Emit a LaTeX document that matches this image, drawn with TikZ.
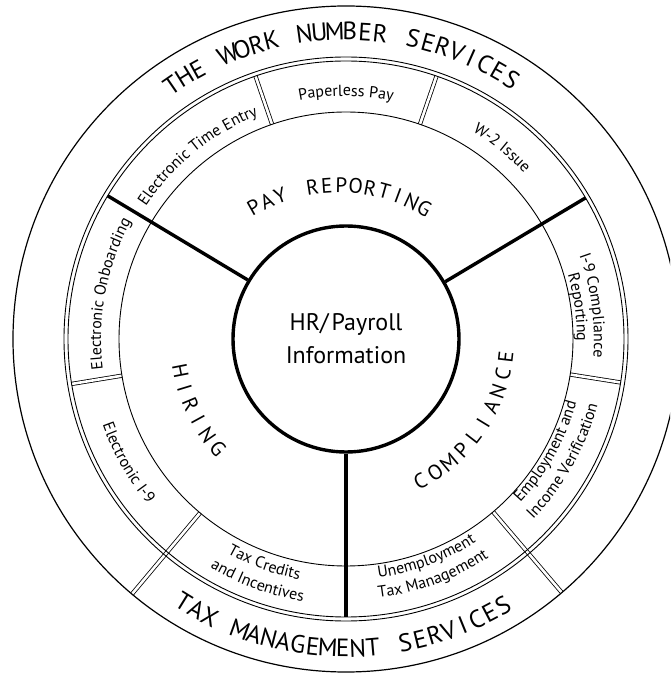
\documentclass[tikz,border=0pt]{standalone}
\usepackage{fontspec}
\setmainfont{PT Sans}
\usetikzlibrary{decorations.text}

\newlength\glyphw
\newcommand\capsfont{\fontsize{25}{29}\selectfont}
\newcommand\segfont{\fontsize{16}{19}\selectfont}

\tikzset{
  ringline/.style={line width=0.9pt},
  rimline/.style={line width=1.2pt},
  spoke/.style={line width=3.4pt},
  divider/.style={draw, line width=0.8pt, double=white, double distance=2.6pt},
  capsletter/.style={font=\capsfont, inner sep=0pt, anchor=base},
  hub/.style={circle, draw, line width=3.4pt, minimum size=226pt, inner sep=0pt,
    align=center, font=\fontsize{24}{33}\selectfont},
}

% Letter-spaced capitals set along a circle about the origin.
% #1 name prefix, #2 baseline radius (pt), #3 start angle, #4 end angle,
% #5 extra word gap (pt), #6 comma list of letters, * marks a word gap.
% Clockwise runs keep the letter tops outward, anticlockwise runs inward.
\newcommand\capsarc[6]{%
  \pgfmathsetmacro\arcdir{ifthenelse((#4)<(#3),-1,1)}%
  \gdef\arcsum{0}\gdef\arccount{0}%
  \foreach \arcch in {#6}{%
    \if\arcch*%
      \pgfmathsetmacro\arctmp{\arcsum+#5}%
    \else
      \settowidth\glyphw{\capsfont\arcch}%
      \pgfmathsetmacro\arctmp{\arcsum+\glyphw}%
    \fi
    \xdef\arcsum{\arctmp}%
    \pgfmathtruncatemacro\arctmp{\arccount+1}%
    \xdef\arccount{\arctmp}%
  }%
  \pgfmathsetmacro\arclen{(#2)/57.29578*abs((#4)-(#3))}%
  \pgfmathsetmacro\arctrack{(\arclen-\arcsum)/(\arccount-1)}%
  \gdef\arcpos{0}%
  \foreach \arcch [count=\arck] in {#6}{%
    \if\arcch*%
      \pgfmathsetmacro\arctmp{\arcpos+#5+\arctrack}%
    \else
      \settowidth\glyphw{\capsfont\arcch}%
      \pgfmathsetmacro\arcmid{(#3)+\arcdir*((\arcpos+\glyphw/2)/(#2))*57.29578}%
      \node[capsletter, rotate=\arcmid+\arcdir*90] (#1-\arck) at (\arcmid:#2pt) {\arcch};%
      \pgfmathsetmacro\arctmp{\arcpos+\glyphw+\arctrack}%
    \fi
    \xdef\arcpos{\arctmp}%
  }%
}

% A label line bent along a circle about the origin: #1 baseline radius,
% #2 start angle, #3 end angle, #4 text.
\newcommand\seglabel[4]{%
  \path[decorate, decoration={text along path, text align=center,
      text={|\segfont|#4}}]
    (#2:#1pt) arc[start angle=#2, end angle=#3, radius=#1pt];%
}

\begin{document}
\begin{tikzpicture}
\fill[white] (-346pt,-340pt) rectangle (324pt,339pt);
\clip (-346pt,-340pt) rectangle (324pt,339pt);

% separators between the services
\draw[divider] (71:227pt) -- (71:278pt);
\draw[divider] (109:227pt) -- (109:278pt);
\draw[divider] (189.3:227pt) -- (189.3:278pt);
\draw[divider] (-9:227pt) -- (-9:278pt);
\draw[divider] (230:227pt) -- (230:333pt);
\draw[divider] (-49.6:227pt) -- (-49.6:333pt);

% rings
\draw[rimline] (0,0) circle[radius=333pt];
\draw[ringline] (0,0) circle[radius=282pt];
\draw[ringline] (0,0) circle[radius=278pt];
\draw[ringline] (0,0) circle[radius=227pt];

% hub and the three areas
\node[hub] (hub) at (0,0) {HR/\kern3pt Payroll\\Information};
\coordinate (rimPay) at (30.5:278pt);
\coordinate (rimHire) at (149:278pt);
\coordinate (rimComp) at (270:278pt);
\draw[spoke] (hub.30.5) -- (rimPay);
\draw[spoke] (hub.149) -- (rimHire);
\draw[spoke] (hub.270) -- (rimComp);

% outer band
\capsarc{twn}{299}{124.5}{57.5}{3}{T,H,E,*,W,O,R,K,*,N,U,M,B,E,R,*,S,E,R,V,I,C,E,S}
\capsarc{tms}{318}{238.3}{300.5}{3}{T,A,X,*,M,A,N,A,G,E,M,E,N,T,*,S,E,R,V,I,C,E,S}

% area names
\renewcommand\capsfont{\fontsize{21}{25}\selectfont}
\begin{scope}[shift={(-7.5pt,-18pt)}]
  \capsarc{pay}{164.5}{119.5}{60}{4}{P,A,Y,*,R,E,P,O,R,T,I,N,G}
\end{scope}
\capsarc{hir}{176}{191}{220.5}{3}{H,I,R,I,N,G}
\capsarc{cmp}{168}{-62.5}{-6.5}{3}{C,O,M,P,L,I,A,N,C,E}

% services
\seglabel{243}{109}{71}{Paperless Pay}
\seglabel{243}{71}{30.5}{W-2 Issue}
\seglabel{240}{149}{109}{Electronic Time Entry}
\seglabel{245}{189.3}{149}{Electronic Onboarding}
\seglabel{258}{189.3}{230}{Electronic I-9}
\seglabel{245}{230}{270}{Tax Credits}
\seglabel{266}{230}{270}{and Incentives}
\seglabel{241}{270}{310.4}{Unemployment}
\seglabel{261}{270}{310.4}{Tax Management}
\seglabel{239}{310.4}{351}{Employment and}
\seglabel{260}{310.4}{351}{Income Verification}
\seglabel{248}{27.5}{-12}{I-9 Compliance}
\seglabel{231}{27.5}{-12}{Reporting}
\end{tikzpicture}
\end{document}
